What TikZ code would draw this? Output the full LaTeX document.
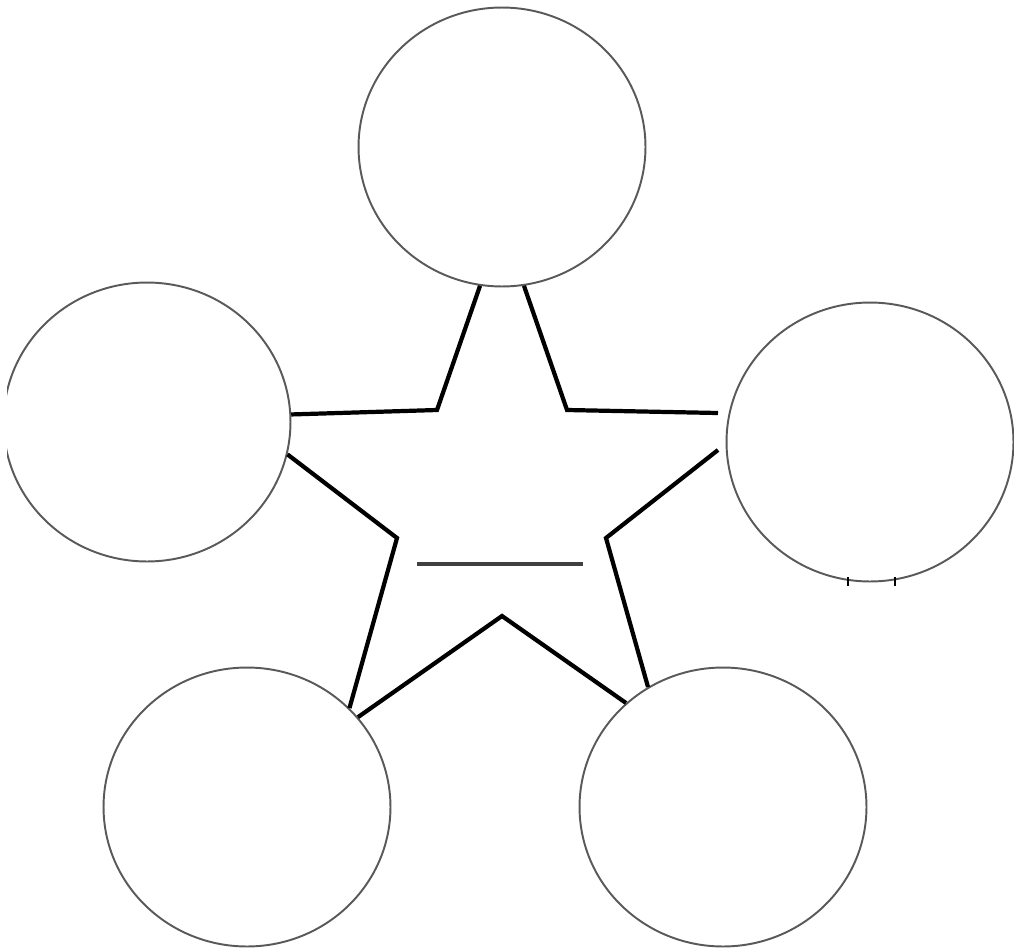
\documentclass[tikz,border=0pt]{standalone}
\usetikzlibrary{shapes.geometric}
\begin{document}
\begin{tikzpicture}[
    x=0.02cm, y=-0.02cm,
    bubble/.style={draw=black!65, line width=1.1pt, ellipse, inner sep=0pt, minimum width=5.74cm, minimum height=5.58cm},
    spoke/.style={line width=2.4pt, line join=miter},
    blank/.style={draw=black!75, line width=2pt}
]
\useasboundingbox (0,0) rectangle (1014,950);
\clip (7,0) rectangle (1014,950);

% Circles
\node[bubble] (top) at (502,147) {};
\node[bubble] (lft) at (147,422) {};
\node[bubble] (rgt) at (870,442) {};
\node[bubble] (bl) at (247,807) {};
\node[bubble] (br) at (723,807) {};

% Star corners
\coordinate (c1) at (437,410);
\coordinate (c2) at (567,410);
\coordinate (c3) at (397,538);
\coordinate (c4) at (606,538);
\coordinate (c5) at (502,616);
\coordinate (r1) at (718,413);
\coordinate (r2) at (718,450);

% Star
\draw[spoke] (top.261) -- (c1) -- (lft.3);
\draw[spoke] (top.279) -- (c2) -- (r1);
\draw[spoke] (lft.-13) -- (c3) -- (bl.44);
\draw[spoke] (r2) -- (c4) -- (br.122);
\draw[spoke] (bl.39) -- (c5) -- (br.133);

% Blank line in the middle
\coordinate (m1) at (417,564);
\coordinate (m2) at (583,564);
\draw[blank] (m1) -- (m2);

% Small marks
\coordinate (t1) at (848,577);
\coordinate (t2) at (895,577);
\draw[line width=1.6pt] (t1) -- ++(0,9);
\draw[line width=1.6pt] (t2) -- ++(0,9);
\end{tikzpicture}
\end{document}
